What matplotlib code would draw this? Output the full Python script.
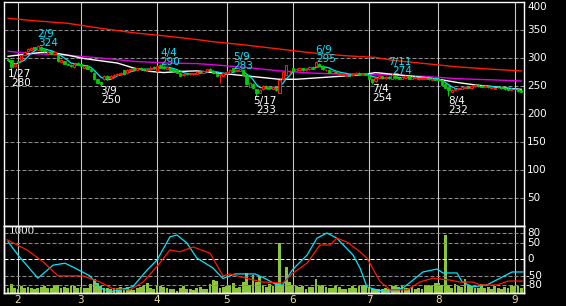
import numpy as np
import pandas as pd
import matplotlib
matplotlib.use('Agg')
import matplotlib.pyplot as plt

plt.rcParams['font.family'] = ['DejaVu Sans']

# trading-day index (0 = first trading day of February)
days = np.arange(-3, 153)

opens = [298, 296, 285, 294, 296, 305, 312, 315, 319, 315,
         320, 315, 308, 311, 307, 306, 293, 294, 290, 288,
         284, 291, 289, 283, 285, 280, 274, 262, 257, 262,
         268, 265, 267, 270, 271, 278, 273, 278, 282, 279,
         283, 281, 278, 280, 284, 276, 288, 284, 281, 283,
         280, 278, 274, 269, 273, 271, 271, 272, 276, 274,
         276, 281, 277, 272, 269, 268, 273, 274, 282, 276,
         277, 278, 270, 249, 254, 244, 238, 244, 250, 248,
         245, 247, 238, 262, 270, 276, 282, 277, 279, 282,
         278, 280, 284, 285, 290, 286, 278, 279, 274, 276,
         272, 270, 268, 270, 269, 272, 274, 271, 273, 270,
         262, 259, 265, 267, 264, 266, 263, 268, 265, 263,
         265, 267, 263, 265, 262, 263, 263, 264, 261, 263,
         262, 260, 254, 248, 240, 243, 244, 245, 247, 249,
         247, 250, 252, 250, 248, 250, 247, 245, 249, 248,
         246, 245, 243, 245, 244, 242]
closes = [296, 284, 290, 292, 305, 310, 316, 318, 316, 321,
          314, 312, 310, 308, 311, 294, 297, 290, 288, 285,
          290, 288, 286, 285, 281, 276, 262, 256, 254, 268,
          264, 268, 270, 272, 274, 271, 279, 281, 279, 282,
          280, 278, 281, 283, 282, 286, 283, 282, 284, 279,
          277, 274, 268, 272, 271, 272, 273, 275, 274, 276,
          280, 279, 273, 268, 271, 273, 275, 279, 276, 278,
          280, 270, 253, 256, 247, 238, 243, 250, 247, 246,
          249, 242, 261, 275, 287, 276, 277, 280, 283, 278,
          280, 284, 281, 292, 286, 280, 279, 274, 276, 274,
          273, 271, 270, 268, 272, 274, 271, 273, 270, 263,
          258, 265, 267, 264, 266, 264, 269, 264, 263, 266,
          268, 263, 266, 266, 264, 265, 264, 262, 263, 261,
          260, 252, 247, 242, 243, 245, 246, 248, 249, 247,
          250, 252, 250, 249, 250, 248, 249, 246, 248, 246,
          244, 243, 245, 244, 241, 240]
highs = [300, 297, 291, 295, 306, 312, 318, 320, 320, 324,
         321, 316, 311, 312, 312, 307, 298, 295, 291, 289,
         291, 292, 290, 286, 286, 281, 275, 263, 258, 269,
         269, 269, 271, 273, 275, 279, 280, 282, 283, 283,
         284, 282, 282, 285, 285, 287, 290, 285, 285, 284,
         281, 279, 275, 273, 274, 273, 274, 276, 277, 277,
         281, 282, 278, 273, 272, 274, 276, 280, 283, 279,
         281, 279, 271, 257, 255, 245, 244, 251, 251, 249,
         250, 248, 262, 276, 288, 279, 283, 281, 284, 283,
         281, 285, 285, 295, 291, 287, 280, 280, 277, 277,
         274, 272, 271, 271, 273, 275, 275, 274, 274, 271,
         263, 266, 268, 268, 267, 267, 274, 269, 266, 267,
         269, 268, 267, 267, 265, 266, 265, 265, 264, 264,
         263, 261, 255, 249, 244, 246, 247, 249, 250, 250,
         251, 253, 253, 251, 251, 251, 250, 247, 250, 249,
         247, 246, 246, 246, 245, 243]
lows = [294, 280, 284, 290, 295, 304, 311, 314, 315, 314,
        313, 311, 307, 307, 306, 293, 292, 289, 287, 284,
        283, 287, 285, 282, 280, 275, 261, 255, 250, 261,
        263, 264, 266, 269, 270, 270, 272, 277, 278, 278,
        279, 277, 277, 279, 281, 275, 282, 281, 280, 278,
        276, 273, 267, 268, 270, 270, 270, 271, 273, 273,
        275, 278, 272, 267, 255, 267, 272, 273, 275, 275,
        276, 269, 252, 248, 246, 233, 237, 243, 246, 245,
        244, 241, 237, 261, 269, 272, 276, 276, 278, 277,
        277, 279, 280, 284, 285, 279, 277, 273, 273, 273,
        271, 269, 267, 267, 268, 271, 270, 270, 269, 262,
        254, 258, 264, 263, 263, 263, 262, 263, 262, 262,
        264, 262, 262, 264, 261, 262, 262, 261, 260, 260,
        259, 251, 246, 232, 239, 242, 243, 244, 246, 246,
        246, 249, 249, 248, 247, 247, 246, 244, 247, 245,
        243, 242, 242, 243, 240, 239]
volumes = [80, 150, 90, 60, 110, 90, 95, 80, 70, 90,
           100, 110, 80, 85, 110, 130, 80, 95, 90, 110,
           120, 90, 100, 80, 90, 150, 230, 160, 120, 90,
           80, 60, 80, 90, 100, 80, 100, 70, 50, 90,
           100, 110, 170, 90, 60, 110, 120, 100, 90, 70,
           60, 40, 80, 110, 60, 70, 50, 90, 100, 70,
           60, 150, 220, 200, 90, 100, 110, 130, 160, 80,
           100, 180, 330, 140, 300, 180, 270, 140, 100, 150,
           120, 160, 830, 110, 430, 180, 130, 110, 100, 120,
           70, 100, 100, 230, 110, 130, 100, 90, 80, 120,
           100, 60, 70, 80, 120, 80, 110, 140, 130, 90,
           70, 60, 60, 60, 90, 70, 120, 110, 100, 130,
           90, 80, 100, 70, 80, 60, 130, 140, 110, 160,
           160, 140, 960, 130, 90, 150, 120, 100, 230, 130,
           120, 90, 80, 150, 90, 100, 60, 120, 90, 70,
           100, 90, 140, 120, 110, 90]

# longer moving averages, read at sample days
ma_days = [-3, 4, 15, 25, 35, 45, 54, 59, 69, 79, 89, 99, 108, 113, 123, 133, 143, 152]
ma_red = [371, 367, 362, 353, 345, 339, 333, 329, 323, 316, 309, 304, 301, 296, 290, 284, 280, 277]
ma_magenta = [312, 308, 305, 300, 294, 291, 290, 288, 283, 277, 273, 271, 270, 270, 267, 263, 261, 259]
white_days = [-3, 7, 10, 15, 20, 25, 30, 35, 40, 44, 49, 54, 59, 64, 69, 74, 79, 84, 89,
              94, 99, 105, 108, 113, 118, 123, 128, 133, 138, 143, 148, 152]
ma_white = [303, 310, 310, 305, 299, 295, 291, 282, 276, 274, 276, 277, 274, 271, 268, 265,
            262, 262, 264, 266, 268, 271, 274, 271, 268, 265, 261, 256, 252, 249, 246, 244]

# oscillators
osc_cyan_days = [-3, 0, 6, 10.6, 14.2, 17.2, 21.7, 24.8, 27.8, 30.8, 34.7, 39, 42, 45.9, 48, 51,
                 54, 58.9, 61.9, 65.5, 71.6, 74.6, 78.2, 80, 82.8, 87.3, 90.3, 93.3, 96.3,
                 101.2, 103.3, 105.4, 108.4, 111.4, 116.3, 119.3, 122.3, 126.5, 128.4, 132.6,
                 134.1, 137.4, 141.6, 145.6, 149.2, 152.5]
osc_cyan = [54, 13, -58, -18, -12, -27, -51, -88, -100, -94, -84, -33, -2, 69, 75, 50,
            4, -27, -59, -45, -45, -59, -79, -79, -33, 13, 65, 81, 65,
            13, -27, -85, -94, -100, -88, -64, -39, -30, -42, -42,
            -69, -85, -79, -58, -39, -39]
osc_red_days = [-3.3, 2.7, 7.6, 12.1, 19.6, 24.8, 28.7, 33.8, 37.8, 42.3, 45.9, 48.9, 52.9,
                58, 61.9, 64, 69.2, 74, 80, 83.1, 87.3, 91.2, 94.2, 96.3, 99.4, 103.3, 105.4,
                109.3, 112.4, 117.5, 121.4, 125.3, 130.5, 133.5, 137.4, 139.5, 144.7, 148, 152.5]
osc_red = [60, 29, -8, -51, -51, -70, -91, -94, -70, -18, 29, 23, 38,
           19, -51, -45, -59, -70, -73, -42, -12, 44, 44, 65, 53, 23, 4,
           -68, -94, -94, -70, -58, -64, -70, -70, -79, -79, -67, -67]

month_days = [0, 19, 42, 63, 83, 106, 127, 150]
month_labels = ['2', '3', '4', '5', '6', '7', '8', '9']
price_ticks = [400, 350, 300, 250, 200, 150, 100, 50]
osc_ticks = [80, 50, 0, -50, -80]

hl_days = [-2, 6, 25, 43, 65, 72, 90, 107, 113, 130]
hl_dates = ['1/27', '2/9', '3/9', '4/4', '5/9', '5/17', '6/9', '7/4', '7/11', '8/4']
hl_values = [280, 324, 250, 290, 283, 233, 295, 254, 274, 232]
hl_is_high = [False, True, False, True, True, False, True, False, True, False]

RED = '#ff1a00'
GREEN = '#00d000'
CYAN = '#00e8ff'
MAGENTA = '#e000e0'
GRID = '#8c8c8c'
VGRID = '#c8c8c8'
VOL = '#8cc43c'
FS = 7.5

W, H = 566, 306
fig = plt.figure(figsize=(W / 100, H / 100), dpi=100, facecolor='black')
ax = fig.add_axes([4 / W, (H - 226) / H, 520 / W, 224 / H])
axv = fig.add_axes([4 / W, (H - 293) / H, 520 / W, 67 / H])
ax2 = fig.add_axes([4 / W, (H - 293) / H, 520 / W, 67 / H], facecolor='none')

xlim = ((4 - 18) / 3.311, (524 - 18) / 3.311)
for a in (ax, axv, ax2):
    a.set_xlim(*xlim)
    a.set_facecolor('black' if a is not ax2 else 'none')
    for s in a.spines.values():
        s.set_color('white')
        s.set_linewidth(1.0)
    a.tick_params(length=0, labelleft=False, labelbottom=False)
    a.set_yticks([])
    a.set_xticks([])
ax2.patch.set_alpha(0)

# main price panel
ax.set_ylim(0, 400)
for v in price_ticks[1:]:
    ax.axhline(v, color=GRID, lw=0.72, ls=(0, (4, 2)), zorder=1)
for d in month_days:
    ax.axvline(d, color=VGRID, lw=0.8, zorder=1)

ma5 = pd.Series(closes).rolling(5, min_periods=1).mean()
ax.plot(ma_days, ma_red, color=RED, lw=1.0, zorder=2)
ax.plot(ma_days, ma_magenta, color=MAGENTA, lw=1.0, zorder=2)
ax.plot(white_days, ma_white, color='white', lw=1.0, zorder=2)
ax.plot(days, ma5, color=CYAN, lw=0.9, zorder=2)

o = np.array(opens)
c = np.array(closes)
hi = np.array(highs)
lo = np.array(lows)
up = c >= o
dn = ~up
ax.vlines(days[up], lo[up], hi[up], color=RED, lw=0.75, zorder=3)
ax.bar(days[up], c[up] - o[up], bottom=o[up], width=0.7, facecolor='black',
       edgecolor=RED, linewidth=0.75, zorder=4)
ax.vlines(days[dn], lo[dn], hi[dn], color=GREEN, lw=0.75, zorder=3)
ax.bar(days[dn], c[dn] - o[dn], bottom=o[dn], width=0.7, facecolor=GREEN,
       edgecolor=GREEN, linewidth=0.6, zorder=4)

for d, t, v, is_high in zip(hl_days, hl_dates, hl_values, hl_is_high):
    col = CYAN if is_high else 'white'
    dy1, dy2 = (10.5, 1.3) if is_high else (-5, -14)
    ax.annotate(t, (d, v), xytext=(8, dy1), textcoords='offset pixels',
                ha='center', va='center', color=col, fontsize=FS, zorder=6)
    ax.annotate(str(v), (d, v), xytext=(10, dy2), textcoords='offset pixels',
                ha='center', va='center', color=col, fontsize=FS, zorder=6)

ytr = ax.get_yaxis_transform()
for v in price_ticks:
    ax.text(1.006, v, str(v), transform=ytr, ha='left',
            va='top' if v == 400 else 'center', color='white', fontsize=FS, clip_on=False)

# lower panel: volume + oscillators
axv.set_ylim(0, 1000 * 67 / 60)
axv.bar(days, volumes, width=0.85, color=VOL, zorder=2)
for d in month_days:
    axv.axvline(d, color=VGRID, lw=0.8, zorder=1)
axv.text(0.0096, 0.918, '1000', transform=axv.transAxes, ha='left', va='center',
         color='white', fontsize=FS)

ax2.set_ylim(-103.7, 102.5)
for v in osc_ticks:
    ax2.axhline(v, color='white' if v == 0 else GRID, lw=0.72, ls=(0, (4, 2)), zorder=1)
ax2.plot(osc_cyan_days, osc_cyan, color=CYAN, lw=0.9, zorder=3)
ax2.plot(osc_red_days, osc_red, color=RED, lw=0.9, zorder=3)
ytr2 = ax2.get_yaxis_transform()
for v in osc_ticks:
    ax2.text(1.002 if v < 0 else 1.006, v, str(v), transform=ytr2, ha='left', va='center',
             color='white', fontsize=FS, clip_on=False)
for d, m in zip(month_days, month_labels):
    ax2.annotate(m, (d, -103.7), xytext=(0, -2), textcoords='offset pixels',
                 ha='center', va='top', color='#e8e0a0', fontsize=FS, annotation_clip=False)

fig.savefig('out.png', dpi=100, facecolor='black')
